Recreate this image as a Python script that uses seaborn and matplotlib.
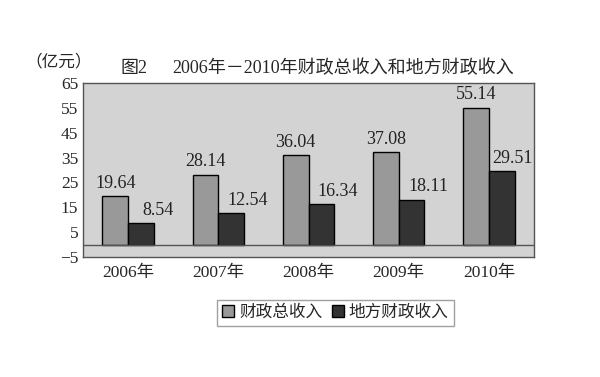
import seaborn as sns
import matplotlib.pyplot as plt
import pandas as pd

years = ['2006年', '2007年', '2008年', '2009年', '2010年']
total_income = [19.64, 28.14, 36.04, 37.08, 55.14]
local_income = [8.54, 12.54, 16.34, 18.11, 29.51]
series_names = ['财政总收入', '地方财政收入']
yticks = [-5, 5, 15, 25, 35, 45, 55, 65]

df = pd.DataFrame({
    'year': years * 2,
    'value': total_income + local_income,
    'series': [series_names[0]] * 5 + [series_names[1]] * 5,
})

sns.set_style('white')
fonts = ['Liberation Serif', 'Noto Sans CJK SC', 'DejaVu Sans']
plt.rcParams['font.family'] = fonts

fig = plt.figure(figsize=(6, 3.77), dpi=100)
ax = fig.add_axes([83 / 600, 1 - 257 / 377, 451 / 600, 174 / 377])
ax.set_facecolor('#d3d3d3')

sns.barplot(data=df, x='year', y='value', hue='series',
            palette={series_names[0]: '#999999', series_names[1]: '#333333'},
            width=0.57, edgecolor='black', linewidth=1, ax=ax, legend=True)

# value labels: total centred, local shifted to the right like the original
total_bars, local_bars = ax.containers[0], ax.containers[1]
ax.bar_label(total_bars, fmt='%.2f', padding=3, fontsize=13, color='#222222')
for i, (bar, v) in enumerate(zip(local_bars, local_income)):
    dx = 8 if i == len(local_income) - 1 else 12
    ax.annotate(f'{v:.2f}', (bar.get_x() + bar.get_width() / 2, bar.get_height()),
                xytext=(dx, 3), textcoords='offset points',
                ha='center', va='bottom', fontsize=13, color='#222222')

ax.axhline(0, color='#555555', lw=1)
ax.set_ylim(-5, 65)
ax.set_xlim(-0.5, 4.5)
ax.set_yticks(yticks)
ax.tick_params(axis='y', labelsize=12.5, length=4, direction='in', color='#555555')
ax.tick_params(axis='x', labelsize=12.5, length=0, pad=6)
ax.set_xlabel('')
ax.set_ylabel('')
for s in ax.spines.values():
    s.set_color('#555555')
    s.set_linewidth(1)

fig.text(25 / 600, 1 - 62 / 377, '（亿元）', fontsize=12, va='center', ha='left')
fig.text(120 / 600, 1 - 68 / 377, '图2', fontsize=13, va='center', ha='left')
fig.text(172 / 600, 1 - 68 / 377, '2006年－2010年财政总收入和地方财政收入',
         fontsize=13, va='center', ha='left')

ax.legend(loc='upper center', bbox_to_anchor=(0.56, -0.2), ncol=2,
          fontsize=12, frameon=True, fancybox=False, edgecolor='#888888',
          handlelength=0.7, handleheight=0.7, handletextpad=0.3,
          columnspacing=0.6, borderpad=0.3)

plt.savefig('out.png', dpi=100)
